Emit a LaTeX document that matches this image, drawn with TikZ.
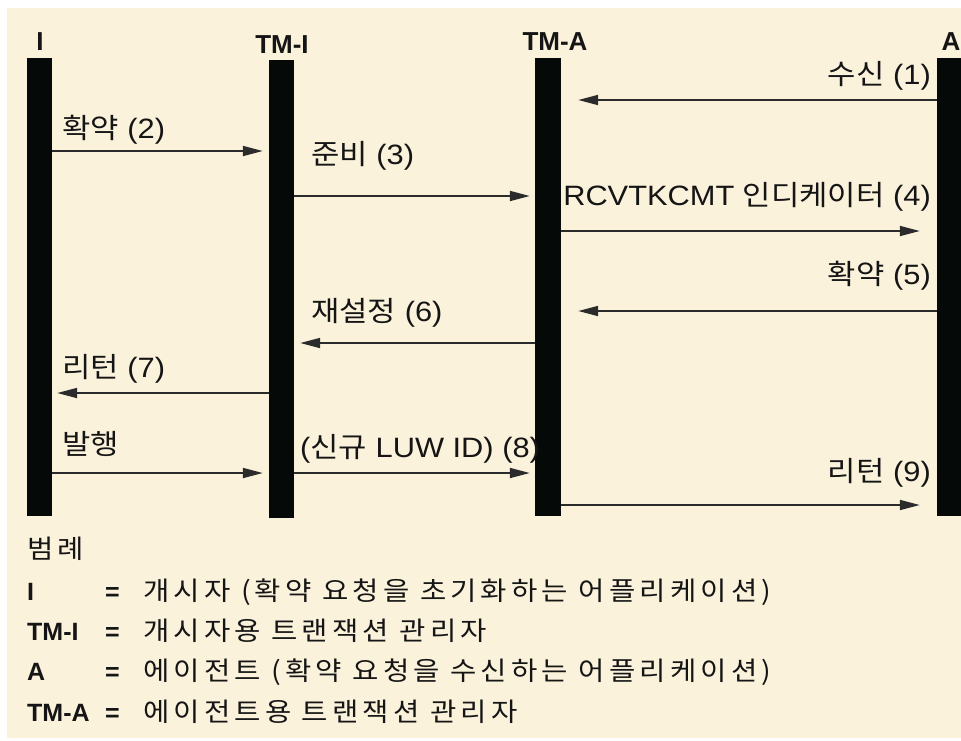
\documentclass[tikz,border=0pt]{standalone}
\usepackage{fontspec}
\setmainfont{Liberation Sans}
\newfontfamily\lab[FakeStretch=1.1]{Liberation Sans}
\newfontfamily\kr[FakeStretch=1.1]{Noto Sans CJK KR}
\newfontfamily\krl[FakeStretch=1.1,LetterSpace=16]{Noto Sans CJK KR}
\usetikzlibrary{arrows.meta,calc}
\definecolor{bgc}{HTML}{FBF2DC}
\definecolor{barc}{HTML}{050A08}
\definecolor{linec}{HTML}{2B2B2B}
\definecolor{txtc}{HTML}{151515}
\tikzset{
  lifeline/.style={fill=barc, inner sep=0pt, minimum width=25pt, draw=none},
  msg/.style={draw=linec, line width=1.8pt, -{Triangle[length=20pt,width=10pt]}},
  lbl/.style={font=\lab\fontsize{28}{32}\selectfont, inner sep=0pt, text=txtc},
  head/.style={font=\bfseries\fontsize{26}{30}\selectfont, inner sep=0pt, text=txtc},
  legkey/.style={font=\bfseries\fontsize{25}{30}\selectfont, inner sep=0pt, text=txtc, anchor=base west},
  legtxt/.style={font=\krl\fontsize{26}{30}\selectfont, inner sep=0pt, text=txtc, anchor=base west},
}
\begin{document}
\begin{tikzpicture}[x=1pt,y=-1pt]
\useasboundingbox (0,0) rectangle (961,740);
\fill[bgc] (7,8) rectangle (966,738);

% lifelines
\node[lifeline, minimum height=458pt] (bI)  at (39.5,287) {};
\node[lifeline, minimum height=458pt] (bTI) at (281.5,289) {};
\node[lifeline, minimum height=458pt, minimum width=26pt] (bTA) at (548,287) {};
\node[lifeline, minimum height=458pt] (bA)  at (949.5,287) {};

% headers
\node[head, anchor=base] (hI)  at (40,50) {I};
\node[head, anchor=base] (hTI) at (282,53) {TM-I};
\node[head, anchor=base] (hTA) at (555,50) {TM-A};
\node[head, anchor=base] (hA)  at (951,50) {A};

% messages
\draw[msg] (bA.west |- 0,100) -- ($(bTA.east |- 0,100)+(17,0)$);
\node[lbl, anchor=base east] (l1) at (931,84) {{\kr 수신} (1)};

\draw[msg] (bI.east |- 0,151) -- ($(bTI.west |- 0,151)+(-6,0)$);
\node[lbl, anchor=base west] (l2) at (62,138) {{\kr 확약} (2)};

\draw[msg] (bTI.east |- 0,196) -- ($(bTA.west |- 0,196)+(-5,0)$);
\node[lbl, anchor=base west] (l3) at (311,164) {{\kr 준비} (3)};

\draw[msg] (bTA.east |- 0,231) -- ($(bA.west |- 0,231)+(-17,0)$);
\node[lbl, anchor=base east] (l4) at (931,205) {RCVTKCMT {\kr 인디케이터} (4)};

\draw[msg] (bA.west |- 0,311) -- ($(bTA.east |- 0,311)+(17,0)$);
\node[lbl, anchor=base east] (l5) at (931,284) {{\kr 확약} (5)};

\draw[msg] (bTA.west |- 0,343) -- ($(bTI.east |- 0,343)+(6,0)$);
\node[lbl, anchor=base west] (l6) at (311,321) {{\kr 재설정} (6)};

\draw[msg] (bTI.west |- 0,393) -- ($(bI.east |- 0,393)+(5,0)$);
\node[lbl, anchor=base west] (l7) at (62,377) {{\kr 리턴} (7)};

\draw[msg] (bI.east |- 0,473) -- ($(bTI.west |- 0,473)+(-6,0)$);
\node[lbl, anchor=base west] (l8a) at (62,454) {{\kr 발행}};

\draw[msg] (bTI.east |- 0,473) -- ($(bTA.west |- 0,473)+(-5,0)$);
\node[lbl, anchor=base west] (l8) at (300,457) {({\kr 신규} LUW ID) (8)};

\draw[msg] (bTA.east |- 0,505) -- ($(bA.west |- 0,505)+(-17,0)$);
\node[lbl, anchor=base east] (l9) at (931,481) {{\kr 리턴} (9)};

% legend
\node[legtxt] (lg) at (27,558) {범례};
\node[legkey] (k1) at (27,600) {I};
\node[legkey] (e1) at (105,600) {=};
\node[legtxt] (t1) at (143,600) {개시자 (확약 요청을 초기화하는 어플리케이션)};
\node[legkey] (k2) at (27,640) {TM-I};
\node[legkey] (e2) at (105,640) {=};
\node[legtxt] (t2) at (143,640) {개시자용 트랜잭션 관리자};
\node[legkey] (k3) at (27,680) {A};
\node[legkey] (e3) at (105,680) {=};
\node[legtxt] (t3) at (143,680) {에이전트 (확약 요청을 수신하는 어플리케이션)};
\node[legkey] (k4) at (27,721) {TM-A};
\node[legkey] (e4) at (105,721) {=};
\node[legtxt] (t4) at (143,721) {에이전트용 트랜잭션 관리자};
\end{tikzpicture}
\end{document}
